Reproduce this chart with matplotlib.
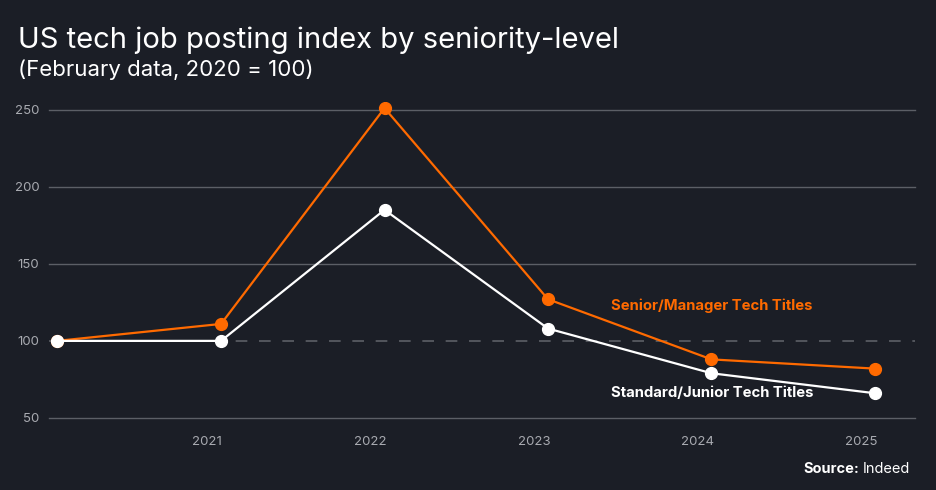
import pandas as pd
import matplotlib.pyplot as plt
import matplotlib.dates as mdates

# Data (February of each year, 2020 = 100)
years = [2020, 2021, 2022, 2023, 2024, 2025]
senior = [100, 111, 251, 127, 88, 82]
junior = [100, 100, 185, 108, 79, 66]

dates = pd.to_datetime([f"{y}-02-01" for y in years])
tick_years = [2021, 2022, 2023, 2024, 2025]

BG = "#1b1e26"
ORANGE = "#ff6a00"
GRID = "#5c5f66"
TICK = "#a8aab0"

plt.rcParams["font.family"] = ["Inter", "DejaVu Sans"]

fig = plt.figure(figsize=(9.36, 4.90), dpi=100, facecolor=BG)
ax = fig.add_axes([0.0524, 0.147, 0.925, 0.645], facecolor=BG)

ax.plot(dates, senior, color=ORANGE, lw=1.6, marker="o", ms=8.5, zorder=4)
ax.plot(dates, junior, color="white", lw=1.6, marker="o", ms=8.5, zorder=5)

ax.set_ylim(50, 255)
ax.set_xlim(pd.Timestamp("2020-01-14"), pd.Timestamp("2025-04-30"))
ax.set_yticks([50, 100, 150, 200, 250])
ax.set_xticks(pd.to_datetime([f"{y}-01-01" for y in tick_years]))
ax.xaxis.set_major_formatter(mdates.DateFormatter("%Y"))

# gridlines, 100 baseline dashed
for v in [50, 150, 200, 250]:
    ax.axhline(v, color=GRID, lw=1, zorder=1, clip_on=False)
ax.axhline(100, color=GRID, lw=1.2, ls=(0, (7, 7)), zorder=1)

for s in ax.spines.values():
    s.set_visible(False)
ax.tick_params(axis="both", length=0, colors=TICK, labelsize=9.5)
ax.tick_params(axis="y", pad=7)
ax.tick_params(axis="x", pad=13)

# labels for the series
ax.text(pd.Timestamp("2023-06-22"), 123, "Senior/Manager Tech Titles",
        color=ORANGE, fontsize=10.7, fontweight="bold", va="center", ha="left")
ax.text(pd.Timestamp("2023-06-22"), 66, "Standard/Junior Tech Titles",
        color="white", fontsize=10.7, fontweight="bold", va="center", ha="left")

fig.text(0.019, 0.902, "US tech job posting index by seniority-level",
         color="white", fontsize=21, va="baseline")
fig.text(0.019, 0.845, "(February data, 2020 = 100)",
         color="white", fontsize=16, va="baseline")

src = fig.text(0.972, 0.035, "Indeed", color="white", fontsize=10.5,
               ha="right", va="baseline")
fig.canvas.draw()
bb = src.get_window_extent()
fig.text(bb.x0 / fig.bbox.width - 0.004, 0.035, "Source:", color="white",
         fontsize=10.5, fontweight="bold", ha="right", va="baseline")

fig.savefig("out.png", dpi=100, facecolor=BG)
